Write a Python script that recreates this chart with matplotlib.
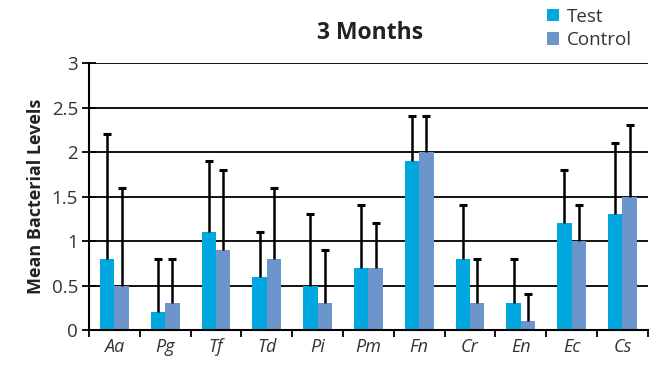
import matplotlib
matplotlib.use("Agg")
import matplotlib.pyplot as plt
import numpy as np

categories = ["Aa", "Pg", "Tf", "Td", "Pi", "Pm", "Fn", "Cr", "En", "Ec", "Cs"]
test = [0.8, 0.2, 1.1, 0.6, 0.5, 0.7, 1.9, 0.8, 0.3, 1.2, 1.3]
control = [0.5, 0.3, 0.9, 0.8, 0.3, 0.7, 2.0, 0.3, 0.1, 1.0, 1.5]
test_err = [1.4, 0.6, 0.8, 0.5, 0.8, 0.7, 0.5, 0.6, 0.5, 0.6, 0.8]
control_err = [1.1, 0.5, 0.9, 0.8, 0.6, 0.5, 0.4, 0.5, 0.3, 0.4, 0.8]
yticks = [0, 0.5, 1, 1.5, 2, 2.5, 3]
ytick_labels = ["0", "0.5", "1", "1.5", "2", "2.5", "3"]

plt.rcParams['font.family'] = ['Open Sans', 'DejaVu Sans']

fig = plt.figure(figsize=(6.57, 3.71), dpi=100)
ax = fig.add_axes([0.1355, 0.1105, 0.8505, 0.7195])

x = np.arange(len(categories))
w = 0.285
c_test = "#00a8df"
c_ctrl = "#6b95cb"

for v in yticks:
    ax.axhline(v, color="black", lw=1.3, zorder=1)

ax.bar(x - w/2, test, w, color=c_test, label="Test", zorder=2)
ax.bar(x + w/2, control, w, color=c_ctrl, label="Control", zorder=2)

for xs, vals, errs in [(x - w/2, test, test_err), (x + w/2, control, control_err)]:
    eb = ax.errorbar(xs, vals, yerr=[np.zeros(len(vals)), errs], fmt="none",
                     ecolor="black", elinewidth=1.8, capsize=3.2, capthick=2.2, zorder=3)
    # hide the lower caps (one-sided error bars)
    eb.lines[1][0].set_visible(False)

ax.set_xlim(-0.5, len(categories) - 0.5)
ax.set_ylim(0, 3)
ax.set_yticks(yticks)
ax.set_yticklabels(ytick_labels, fontsize=13.5, color="#333333")
ax.tick_params(axis="y", direction="inout", length=10, width=1.3, pad=3)

ax.set_xticks(x)
ax.set_xticklabels(categories, fontsize=13, style="italic", color="#333333")
ax.set_xticks(np.arange(len(categories) + 1) - 0.5, minor=True)
ax.tick_params(axis="x", which="major", length=0, pad=6)
ax.tick_params(axis="x", which="minor", direction="out", length=5, width=1.3)

for s in ["top", "right"]:
    ax.spines[s].set_visible(False)
ax.spines["left"].set_linewidth(1.5)
ax.spines["bottom"].set_linewidth(1.5)

ax.set_ylabel("Mean Bacterial Levels", fontsize=13, fontweight="bold", color="#222222", labelpad=5)

fig.text(0.563, 0.91, "3 Months", ha="center", va="center", fontsize=16.5, fontweight="bold", color="#222222")

leg = fig.legend(loc="upper left", bbox_to_anchor=(0.815, 1.01), frameon=False, fontsize=13.5,
                 handlelength=0.65, handleheight=0.65, handletextpad=0.45, labelspacing=0.3,
                 borderaxespad=0.2)
for t in leg.get_texts():
    t.set_color("#333333")

fig.savefig("out.png", dpi=100)
